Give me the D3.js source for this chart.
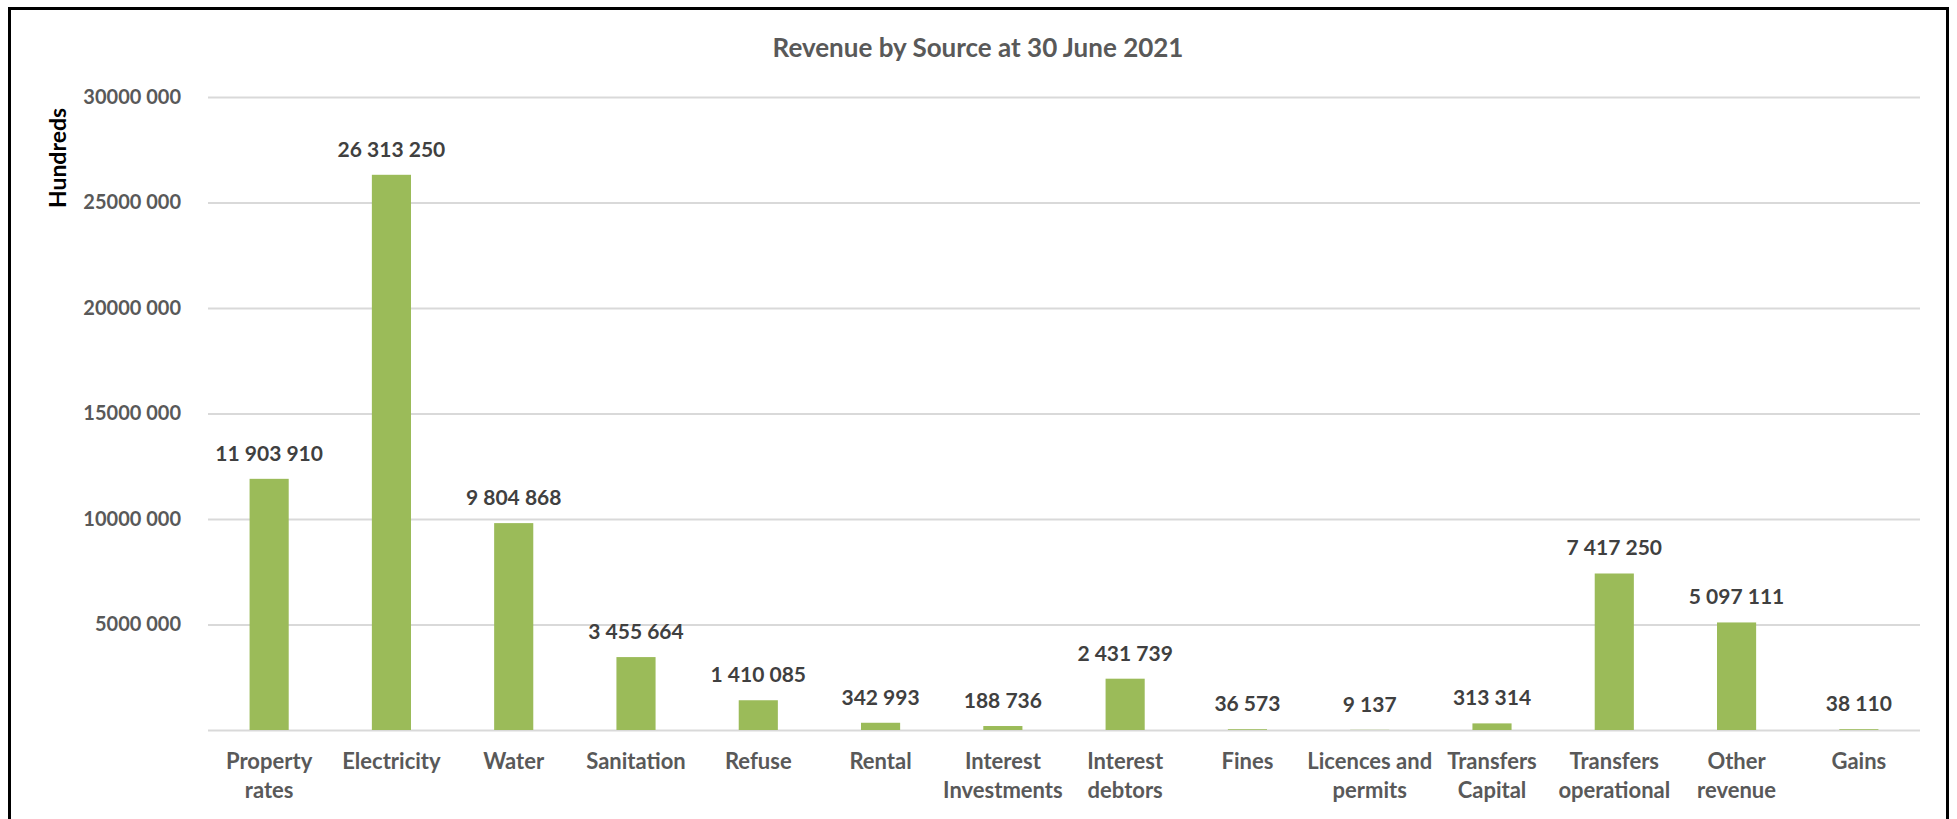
<!DOCTYPE html>
<html>
<head>
<meta charset="utf-8">
<script src="https://cdn.jsdelivr.net/npm/d3@7"></script>
<style>
  html, body { margin: 0; padding: 0; background: #ffffff; }
  svg { display: block; }
  text { font-family: Lato, "Open Sans", sans-serif; }
</style>
</head>
<body>
<svg id="chart" width="1957" height="819"></svg>
<script>
// Revenue sources (labels wrap on "\n")
const categories = [
  "Property\nrates", "Electricity", "Water", "Sanitation", "Refuse", "Rental",
  "Interest\nInvestments", "Interest\ndebtors", "Fines", "Licences and\npermits",
  "Transfers\nCapital", "Transfers\noperational", "Other\nrevenue", "Gains"
];

// Revenue amounts in hundreds
const revenue = [
  11903910, 26313250, 9804868, 3455664, 1410085, 342993,
  188736, 2431739, 36573, 9137, 313314, 7417250, 5097111, 38110
];

// Value axis ticks and their printed labels
const tickValues = [0, 5000000, 10000000, 15000000, 20000000, 25000000, 30000000];
const tickLabels = ["", "5000 000", "10000 000", "15000 000", "20000 000", "25000 000", "30000 000"];

const chartTitle = "Revenue by Source at 30 June 2021";
const axisTitle = "Hundreds";

const svg = d3.select("#chart");

// Outer frame
svg.append("rect")
  .attr("x", 9.5).attr("y", 8.5)
  .attr("width", 1938).attr("height", 900)
  .attr("fill", "#ffffff")
  .attr("stroke", "#000000")
  .attr("stroke-width", 3);

const x = d3.scaleBand()
  .domain(categories)
  .range([208, 1920])
  .paddingInner(0.68)
  .paddingOuter(0.34);

const y = d3.scaleLinear()
  .domain([0, 30000000])
  .range([730, 97]);

// Gridlines and value labels
const yAxis = d3.axisLeft(y)
  .tickValues(tickValues)
  .tickSize(-(1920 - 208))
  .tickPadding(27)
  .tickFormat((d, i) => tickLabels[i]);

const gy = svg.append("g")
  .attr("transform", "translate(208,0)")
  .call(yAxis);
gy.select(".domain").remove();
gy.selectAll(".tick line")
  .attr("stroke", "#d9d9d9")
  .attr("stroke-width", 2);
gy.selectAll(".tick text")
  .attr("fill", "#595959")
  .attr("font-size", 20)
  .attr("font-weight", 700);

// Bars
svg.append("g").selectAll("rect")
  .data(revenue)
  .join("rect")
  .attr("x", (d, i) => x(categories[i]))
  .attr("y", d => y(d))
  .attr("width", x.bandwidth())
  .attr("height", d => y(0) - y(d))
  .attr("fill", "#9bbb59");

// Data labels, digits grouped in threes with spaces
const fmt = d3.formatLocale({ decimal: ".", thousands: "\u00a0", grouping: [3], currency: ["", ""] }).format(",d");
svg.append("g").selectAll("text")
  .data(revenue)
  .join("text")
  .attr("x", (d, i) => x(categories[i]) + x.bandwidth() / 2)
  .attr("y", d => y(d) - 18)
  .attr("text-anchor", "middle")
  .attr("fill", "#404040")
  .attr("font-size", 21)
  .attr("font-weight", 700)
  .text(d => fmt(d));

// Category axis
const xAxis = d3.axisBottom(x).tickSize(0).tickFormat("");
const gx = svg.append("g")
  .attr("transform", "translate(0,730)")
  .call(xAxis);
gx.select(".domain").remove();
gx.selectAll(".tick").each(function (d) {
  const lines = d.split("\n");
  const t = d3.select(this).append("text")
    .attr("text-anchor", "middle")
    .attr("fill", "#595959")
    .attr("font-size", 22)
    .attr("font-weight", 700);
  lines.forEach((ln, k) => {
    t.append("tspan").attr("x", 0).attr("y", 39 + k * 29).text(ln);
  });
});

// Titles
svg.append("text")
  .attr("x", 978).attr("y", 57)
  .attr("text-anchor", "middle")
  .attr("fill", "#595959")
  .attr("font-size", 26)
  .attr("font-weight", 700)
  .text(chartTitle);

svg.append("text")
  .attr("transform", "translate(66,158) rotate(-90)")
  .attr("text-anchor", "middle")
  .attr("fill", "#000000")
  .attr("font-size", 23)
  .attr("font-weight", 700)
  .text(axisTitle);
</script>
</body>
</html>
